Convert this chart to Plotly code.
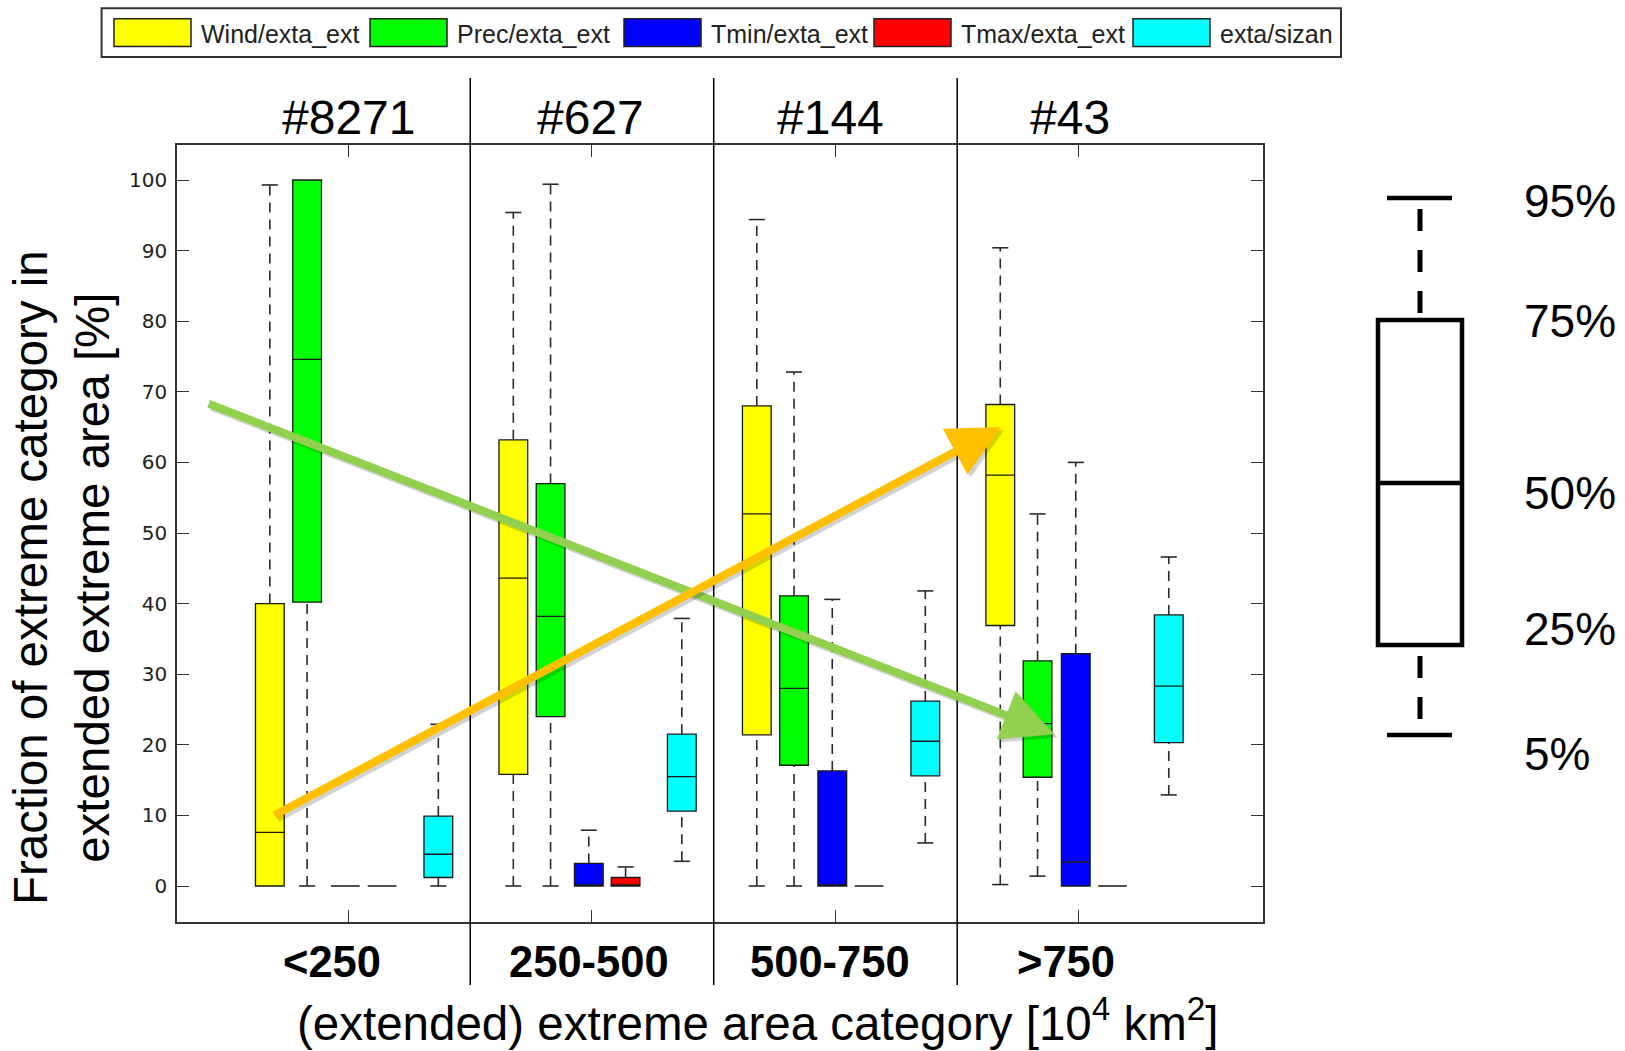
import plotly.graph_objects as go

# ---------------- data ----------------
categories = ["<250", "250-500", "500-750", ">750"]
event_counts = ["#8271", "#627", "#144", "#43"]
series_names = ["Wind/exta_ext", "Prec/exta_ext", "Tmin/exta_ext", "Tmax/exta_ext", "exta/sizan"]

# percentiles (5, 25, 50, 75, 95) per area category
wind_p05 = [0.0, 0.0, 0.0, 0.2]
wind_p25 = [0.0, 15.8, 21.4, 36.9]
wind_p50 = [7.6, 43.6, 52.7, 58.2]
wind_p75 = [40.0, 63.2, 68.0, 68.2]
wind_p95 = [99.3, 95.4, 94.4, 90.4]

prec_p05 = [0.0, 0.0, 0.0, 1.4]
prec_p25 = [40.2, 24.0, 17.1, 15.4]
prec_p50 = [74.6, 38.2, 28.0, 23.0]
prec_p75 = [100.0, 57.0, 41.1, 31.9]
prec_p95 = [100.0, 99.4, 72.8, 52.7]

tmin_p05 = [0.0, 0.0, 0.0, 0.0]
tmin_p25 = [0.0, 0.0, 0.0, 0.0]
tmin_p50 = [0.0, 0.0, 0.0, 3.4]
tmin_p75 = [0.0, 3.2, 16.3, 32.9]
tmin_p95 = [0.0, 7.9, 40.6, 60.0]

tmax_p05 = [0.0, 0.0, 0.0, 0.0]
tmax_p25 = [0.0, 0.0, 0.0, 0.0]
tmax_p50 = [0.0, 0.0, 0.0, 0.0]
tmax_p75 = [0.0, 1.2, 0.0, 0.0]
tmax_p95 = [0.0, 2.7, 0.0, 0.0]

sizan_p05 = [0.0, 3.5, 6.1, 12.9]
sizan_p25 = [1.2, 10.6, 15.6, 20.3]
sizan_p50 = [4.5, 15.5, 20.5, 28.3]
sizan_p75 = [9.9, 21.5, 26.2, 38.4]
sizan_p95 = [22.9, 37.9, 41.8, 46.6]

# trend arrows (start category position/value -> end)
green_arrow = dict(x0=0.42, y0=68.4, x1=3.90, y1=21.5)
orange_arrow = dict(x0=0.69, y0=9.9, x1=3.68, y1=65.0)

key_labels = ["95%", "75%", "50%", "25%", "5%"]

# ---------------- styling / layout constants ----------------
colors = ["#FFFF00", "#00FF00", "#0000FF", "#FF0000", "#00FFFF"]
offsets = [-0.323, -0.170, -0.013, 0.138, 0.369]
BOX_W = 0.118
CAP_W = 0.066
FONT = "Liberation Sans"
cat_label_shift = [-16, -3, -5, -13]   # px nudges of the category labels
header_shift = [0, -1, -5, -9]         # px nudges of the count headers

W, H = 1625, 1051
PL, PR, PT, PB = 177, 1263, 145, 922


def px(x):
    return (x - PL) / (PR - PL)


def py(y):
    return (PB - y) / (PB - PT)


series = [
    (wind_p05, wind_p25, wind_p50, wind_p75, wind_p95),
    (prec_p05, prec_p25, prec_p50, prec_p75, prec_p95),
    (tmin_p05, tmin_p25, tmin_p50, tmin_p75, tmin_p95),
    (tmax_p05, tmax_p25, tmax_p50, tmax_p75, tmax_p95),
    (sizan_p05, sizan_p25, sizan_p50, sizan_p75, sizan_p95),
]

fig = go.Figure()
cat_pos = list(range(1, len(categories) + 1))

for name, col, off, (p05, p25, p50, p75, p95) in zip(series_names, colors, offsets, series):
    pos = [c + off for c in cat_pos]
    # dashed whiskers
    wx, wy, cx, cy = [], [], [], []
    for p, lo, q1, q3, hi in zip(pos, p05, p25, p75, p95):
        if hi > q3:
            wx += [p, p, None]
            wy += [q3, hi, None]
            cx += [p - CAP_W / 2, p + CAP_W / 2, None]
            cy += [hi, hi, None]
        if lo < q1:
            wx += [p, p, None]
            wy += [lo, q1, None]
            cx += [p - CAP_W / 2, p + CAP_W / 2, None]
            cy += [lo, lo, None]
    fig.add_trace(go.Scatter(x=wx, y=wy, mode="lines", showlegend=False, hoverinfo="skip",
                             line=dict(color="#2a2a2a", width=1.6, dash="10px,7px")))
    fig.add_trace(go.Scatter(x=cx, y=cy, mode="lines", showlegend=False, hoverinfo="skip",
                             line=dict(color="#2a2a2a", width=1.6)))
    fig.add_trace(go.Box(
        name=name, x=pos, q1=p25, median=p50, q3=p75, lowerfence=p25, upperfence=p75,
        width=BOX_W, fillcolor=col, line=dict(color="#1a1a1a", width=1.3),
        boxpoints=False, showlegend=False, hoverinfo="skip"))

shapes = []
annotations = []

# category separators
for k in range(1, len(categories)):
    shapes.append(dict(type="line", xref="x", yref="paper", x0=k + 0.5, x1=k + 0.5,
                       y0=py(985), y1=py(78), line=dict(color="black", width=1.5)))

# header counts
for c, txt, sh in zip(cat_pos, event_counts, header_shift):
    annotations.append(dict(x=c, y=py(117.5), xref="x", yref="paper", text=txt, showarrow=False,
                            xshift=sh, font=dict(family=FONT, size=48, color="black"),
                            xanchor="center", yanchor="middle"))

# category labels under the axis
for c, txt, sh in zip(cat_pos, categories, cat_label_shift):
    annotations.append(dict(x=c, y=py(962), xref="x", yref="paper", text=txt, showarrow=False,
                            xshift=sh, font=dict(family=FONT, size=43.5, color="black",
                                                 weight="bold"),
                            xanchor="center", yanchor="middle"))

# axis titles
annotations.append(dict(x=px(61), y=py(578), xref="paper", yref="paper",
                        text="Fraction of extreme category in<br>extended extreme area [%]",
                        textangle=-90, showarrow=False, align="center",
                        font=dict(family=FONT, size=47.5, color="black"),
                        xanchor="center", yanchor="middle"))
annotations.append(dict(x=px(757), y=py(1020), xref="paper", yref="paper",
                        text="(extended) extreme area category [10<sup>4</sup> km<sup>2</sup>]",
                        showarrow=False, font=dict(family=FONT, size=47.5, color="black"),
                        xanchor="center", yanchor="middle"))

# arrows (shadow + arrow)
for arr, col in [(green_arrow, "#92D050"), (orange_arrow, "#FFC000")]:
    for shadow in (True, False):
        annotations.append(dict(
            x=arr["x1"], y=arr["y1"], ax=arr["x0"], ay=arr["y0"],
            xref="x", yref="y", axref="x", ayref="y", text="", showarrow=True,
            arrowhead=2, arrowsize=1.3, arrowwidth=8, standoff=0,
            arrowcolor="rgba(0,0,0,0.18)" if shadow else col,
            xshift=3 if shadow else 0, yshift=-3 if shadow else 0))

# legend box (top)
shapes.append(dict(type="rect", xref="paper", yref="paper", x0=px(101.6), x1=px(1341),
                   y0=py(57), y1=py(8.3), line=dict(color="#333333", width=2), fillcolor="white"))
leg_x0 = [114, 370, 624, 874, 1133]
for x0, col, name in zip(leg_x0, colors, series_names):
    shapes.append(dict(type="rect", xref="paper", yref="paper", x0=px(x0), x1=px(x0 + 77),
                       y0=py(46.6), y1=py(18.7), line=dict(color="#222222", width=1.5),
                       fillcolor=col))
    annotations.append(dict(x=px(x0 + 85), y=py(34), xref="paper", yref="paper", text=name,
                            showarrow=False, xanchor="left", yanchor="middle",
                            font=dict(family=FONT, size=25, color="#222222")))

# key box on the right
KL, KR, KC = 1378, 1462, 1420
kline = dict(color="black", width=4.5)
shapes.append(dict(type="rect", xref="paper", yref="paper", x0=px(KL), x1=px(KR),
                   y0=py(645), y1=py(320), line=kline))
shapes.append(dict(type="line", xref="paper", yref="paper", x0=px(KL), x1=px(KR),
                   y0=py(483), y1=py(483), line=kline))
for yc in (198, 735):
    shapes.append(dict(type="line", xref="paper", yref="paper", x0=px(1387), x1=px(1452),
                       y0=py(yc), y1=py(yc), line=kline))
for ya, yb in ((209, 320), (656, 722)):
    shapes.append(dict(type="line", xref="paper", yref="paper", x0=px(KC), x1=px(KC),
                       y0=py(ya), y1=py(yb), line=dict(color="black", width=5, dash="22px,19px")))
for txt, yy in zip(key_labels, [201, 321, 493, 629, 754]):
    annotations.append(dict(x=px(1522), y=py(yy), xref="paper", yref="paper", text=txt,
                            showarrow=False, xanchor="left", yanchor="middle",
                            font=dict(family=FONT, size=46, color="black")))

fig.update_layout(
    width=W, height=H,
    margin=dict(l=PL, r=W - PR, t=PT, b=H - PB),
    paper_bgcolor="white", plot_bgcolor="white",
    shapes=shapes, annotations=annotations,
    xaxis=dict(range=[0.2957, 4.756], tickvals=cat_pos, showticklabels=False,
               ticks="inside", ticklen=12, tickcolor="#333333", tickwidth=1.3,
               showline=True, mirror="ticks", linecolor="#333333", linewidth=1.5,
               showgrid=False, zeroline=False),
    yaxis=dict(range=[-5.1, 104.96], tickvals=list(range(0, 101, 10)),
               ticks="inside", ticklen=12, tickcolor="#333333", tickwidth=1.3,
               showline=True, mirror="ticks", linecolor="#333333", linewidth=1.5,
               showgrid=False, zeroline=False, ticklabelstandoff=4,
               tickfont=dict(family="DejaVu Sans", size=20, color="#222222")),
)

fig.write_html("out.html")
